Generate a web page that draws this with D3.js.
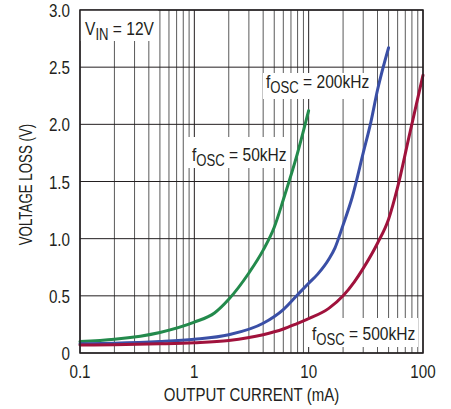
<!DOCTYPE html>
<html lang="en">
<head>
    <meta charset="UTF-8">
    <title>Voltage Loss vs Output Current</title>
    <script src="https://d3js.org/d3.v7.min.js"></script>
    <style>
        body {
            margin: 0;
            padding: 0;
            background-color: #fff;
        }
        svg text {
            font-family: "Liberation Sans", Arial, sans-serif;
            fill: #231f20;
        }
    </style>
</head>
<body>
    <svg width="451" height="409"></svg>
    <script>
        // Output current (mA) and voltage loss (V)
        const current50 = [0.1, 0.2, 0.5, 1, 1.5, 2, 3, 4, 5, 6, 8, 10];
        const loss50 = [0.10, 0.12, 0.18, 0.27, 0.35, 0.47, 0.70, 0.90, 1.10, 1.34, 1.75, 2.12];

        const current200 = [0.1, 0.2, 0.5, 1, 2, 4, 6, 8, 10, 12, 15, 17, 20, 24, 30, 35, 40, 50];
        const loss200 = [0.08, 0.085, 0.10, 0.12, 0.16, 0.26, 0.38, 0.51, 0.61, 0.69, 0.82, 0.92, 1.12, 1.36, 1.75, 2.02, 2.30, 2.67];

        const current500 = [0.1, 0.2, 0.5, 1, 2, 4, 6, 8, 10, 15, 20, 25, 30, 40, 50, 60, 75, 100];
        const loss500 = [0.07, 0.072, 0.08, 0.09, 0.11, 0.16, 0.21, 0.26, 0.30, 0.39, 0.50, 0.62, 0.74, 0.96, 1.17, 1.45, 1.88, 2.43];

        const xTicks = [0.1, 1, 10, 100];
        const yTicks = [0, 0.5, 1.0, 1.5, 2.0, 2.5, 3.0];

        const svg = d3.select("svg"),
            margin = { top: 10, right: 28, bottom: 56, left: 80 },
            width = svg.attr("width") - margin.left - margin.right,
            height = svg.attr("height") - margin.top - margin.bottom;

        const g = svg.append("g")
            .attr("transform", `translate(${margin.left},${margin.top})`);

        // Scales
        const x = d3.scaleLog().domain([0.1, 100]).range([0, width]);
        const y = d3.scaleLinear().domain([0, 3]).range([height, 0]);

        // Minor log grid (2..9 in each decade)
        const minor = [];
        [0.1, 1, 10].forEach(d => { for (let k = 2; k <= 9; k++) minor.push(d * k); });

        g.selectAll(".minor")
            .data(minor)
            .enter().append("line")
            .attr("x1", d => x(d)).attr("x2", d => x(d))
            .attr("y1", 0).attr("y2", height)
            .attr("stroke", "#5a5a5a")
            .attr("stroke-width", 1);

        g.selectAll(".vmajor")
            .data(xTicks)
            .enter().append("line")
            .attr("x1", d => x(d)).attr("x2", d => x(d))
            .attr("y1", 0).attr("y2", height)
            .attr("stroke", "#231f20")
            .attr("stroke-width", 1);

        g.selectAll(".hmajor")
            .data(yTicks)
            .enter().append("line")
            .attr("x1", 0).attr("x2", width)
            .attr("y1", d => y(d)).attr("y2", d => y(d))
            .attr("stroke", "#231f20")
            .attr("stroke-width", 1);

        // White boxes behind the labels
        const boxes = [
            [0, 0, 78, 31],
            [105, 127, 105, 31],
            [183, 63, 114, 26],
            [227, 308, 111, 29]
        ];
        g.selectAll(".box")
            .data(boxes)
            .enter().append("rect")
            .attr("x", d => d[0]).attr("y", d => d[1])
            .attr("width", d => d[2]).attr("height", d => d[3])
            .attr("fill", "#fff");

        // Curves
        const line = d3.line()
            .x(d => x(d[0]))
            .y(d => y(d[1]))
            .curve(d3.curveMonotoneX);

        const series = [
            { xs: current50, ys: loss50, color: "#238a4c" },
            { xs: current200, ys: loss200, color: "#3a4fa6" },
            { xs: current500, ys: loss500, color: "#a0123c" }
        ];

        series.forEach(s => {
            g.append("path")
                .datum(s.xs.map((v, i) => [v, s.ys[i]]))
                .attr("d", line)
                .attr("fill", "none")
                .attr("stroke", s.color)
                .attr("stroke-width", 3)
                .attr("stroke-linecap", "round");
        });

        // Frame
        g.append("rect")
            .attr("width", width).attr("height", height)
            .attr("fill", "none")
            .attr("stroke", "#231f20")
            .attr("stroke-width", 1.5);

        // Condensed text: regular face squeezed horizontally
        function txt(px, py, str, size, sx, anchor, rot) {
            return g.append("text")
                .attr("transform", `translate(${px},${py})${rot ? " rotate(-90)" : ""} scale(${sx},1)`)
                .attr("text-anchor", anchor || "start")
                .style("font-size", size + "px")
                .text(str);
        }

        // Tick labels
        xTicks.forEach(d => txt(x(d), height + 24.5, d, 19, 0.8, "middle"));
        yTicks.forEach(d => txt(-10, y(d) + 7, d === 0 ? "0" : d.toFixed(1), 19, 0.8, "end"));

        // Axis titles
        txt(width / 2, height + 48, "OUTPUT CURRENT (mA)", 19, 0.79, "middle");
        txt(-48, height / 2 + 3, "VOLTAGE LOSS (V)", 18, 0.74, "middle", true);

        // Labels with subscripts
        function label(px, py, main, sub, rest) {
            const t = txt(px, py, "", 19, 0.82, "start");
            t.append("tspan").text(main);
            t.append("tspan").attr("dy", 5).style("font-size", "16px").text(sub);
            t.append("tspan").attr("dy", -5).text(rest);
        }

        label(5, 25, "V", "IN", " = 12V");
        label(112, 151, "f", "OSC", " = 50kHz");
        label(186, 78, "f", "OSC", " = 200kHz");
        label(232, 330, "f", "OSC", " = 500kHz");
    </script>
</body>
</html>
